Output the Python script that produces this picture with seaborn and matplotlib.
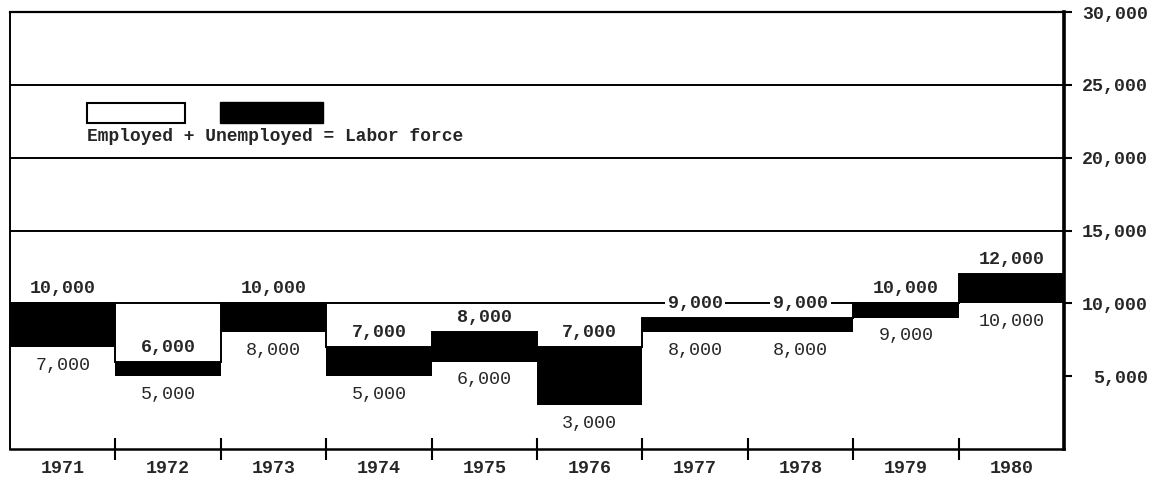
import numpy as np
import pandas as pd
import seaborn as sns
import matplotlib.pyplot as plt
from matplotlib.patches import Rectangle

# data (thousands of people)
years = ["1971", "1972", "1973", "1974", "1975", "1976", "1977", "1978", "1979", "1980"]
employed = [7000, 5000, 8000, 5000, 6000, 3000, 8000, 8000, 9000, 10000]
labor_force = [10000, 6000, 10000, 7000, 8000, 7000, 9000, 9000, 10000, 12000]
y_ticks = [5000, 10000, 15000, 20000, 25000, 30000]
grid_levels = [10000, 15000, 20000, 25000]

df = pd.DataFrame({"year": years, "employed": employed, "labor": labor_force})

sns.set_style("white")
plt.rcParams["font.family"] = ["Liberation Mono", "DejaVu Sans Mono"]
FS = 13.2

fig = plt.figure(figsize=(11.61, 4.82), dpi=100)
ax = fig.add_axes([10 / 1161, 33 / 482, 1054 / 1161, 437 / 482])

# horizontal rules behind the bars
for lv in grid_levels:
    ax.axhline(lv, color="black", lw=1.4, zorder=0)

# labor force (black) then employed (white) on top -> black = unemployed
sns.barplot(data=df, x="year", y="labor", color="black", width=1, saturation=1,
            linewidth=0, ax=ax, zorder=2)
sns.barplot(data=df, x="year", y="employed", color="white", width=1, saturation=1,
            linewidth=0, ax=ax, zorder=3)

# step outline of the labor force
ax.stairs(df["labor"], edges=np.arange(len(years) + 1) - 0.5, baseline=None,
          color="black", lw=1.4, zorder=4)

# value labels
for i, (e, lf) in enumerate(zip(employed, labor_force)):
    ax.annotate(f"{lf:,}", (i, lf), xytext=(0, 10.5), textcoords="offset points",
                ha="center", va="center", fontsize=FS, fontweight="bold", zorder=6,
                bbox=dict(boxstyle="square,pad=0.15", fc="white", ec="none"))
    ax.annotate(f"{e:,}", (i, e), xytext=(0, -13), textcoords="offset points",
                ha="center", va="center", fontsize=FS, zorder=6)

ax.set_xlim(-0.5, len(years) - 0.5)
ax.set_ylim(0, 30000)

# x axis: year names at centres, tick marks at boundaries
ax.set_xticks(range(len(years)))
ax.set_xticklabels(years, fontsize=FS, fontweight="bold")
ax.tick_params(axis="x", which="major", length=0, pad=8)
ax.set_xticks(np.arange(len(years) - 1) + 0.5, minor=True)
ax.tick_params(axis="x", which="minor", direction="inout", length=16, width=1.5,
               bottom=True, color="black")
ax.set_xlabel("")
ax.xaxis.set_zorder(7)

# y axis on the right, labels right-aligned
ax.yaxis.tick_right()
ax.set_yticks(y_ticks)
ax.set_yticklabels([f"{v:,}" for v in y_ticks], fontsize=FS, fontweight="bold")
ax.tick_params(axis="y", direction="out", length=6, width=1.5, pad=54.5, color="black")
for lab in ax.get_yticklabels():
    lab.set_horizontalalignment("right")
ax.set_ylabel("")

for side, lw in [("top", 1.6), ("bottom", 1.8), ("right", 2.6), ("left", 1.4)]:
    ax.spines[side].set_visible(True)
    ax.spines[side].set_color("black")
    ax.spines[side].set_linewidth(lw)
    ax.spines[side].set_zorder(5)

# legend
ax.add_patch(Rectangle((0.073, 0.746), 0.093, 0.046, transform=ax.transAxes,
                       fc="white", ec="black", lw=1.5, zorder=6))
ax.add_patch(Rectangle((0.199, 0.746), 0.098, 0.048, transform=ax.transAxes,
                       fc="black", ec="black", lw=1.0, zorder=6))
ax.text(0.073, 0.714, "Employed + Unemployed = Labor force", transform=ax.transAxes,
        ha="left", va="center", fontsize=12.9, fontweight="bold", zorder=6)

fig.savefig("out.png", dpi=100)
